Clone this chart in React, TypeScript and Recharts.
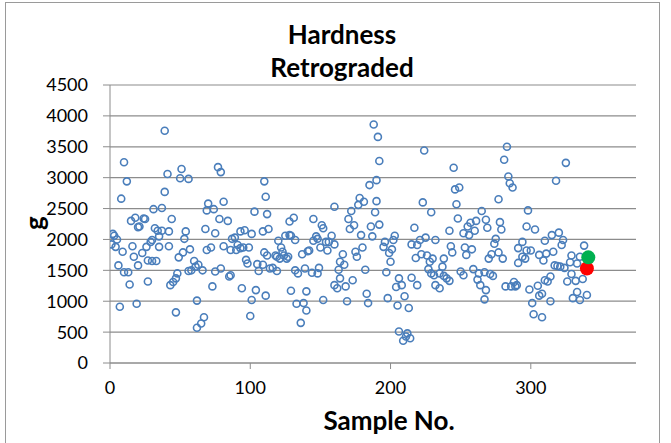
import { ScatterChart, Scatter, XAxis, YAxis, CartesianGrid } from 'recharts';

// sample number / hardness (g)
const sampleNo = [
  10, 12, 8, 31, 15, 18, 21, 24, 25, 20, 32, 34, 2, 3, 5, 1, 4, 9, 16, 26, 29, 30, 17, 23, 27, 30, 6, 20, 10, 13, 14, 27, 7, 19,
  39, 41, 51, 50, 56, 39, 37, 70, 69, 44, 37, 42, 35, 54, 53, 68, 75, 35, 42, 57, 52, 49, 69, 72, 33, 60, 61, 63, 56, 58, 66, 75, 48, 47, 45, 43, 73, 62, 47, 67, 65, 62,
  77, 79, 110, 111, 81, 103, 112, 74, 78, 84, 81, 87, 89, 93, 96, 101, 109, 113, 86, 90, 93, 95, 99, 91, 97, 98, 105, 109, 110, 112, 106, 114, 79, 85, 86, 94, 104, 111, 101, 100,
  131, 128, 145, 151, 152, 125, 128, 129, 132, 120, 122, 147, 148, 145, 150, 142, 141, 118, 119, 123, 124, 126, 127, 121, 137, 116, 119, 132, 134, 139, 144, 148, 149, 129, 140, 133, 138, 140, 136, 152,
  188, 191, 192, 190, 185, 190, 178, 181, 177, 172, 189, 160, 170, 174, 171, 186, 192, 179, 187, 158, 154, 156, 160, 155, 180, 175, 176, 166, 164, 167, 163, 182, 164, 173, 160, 162, 168, 169, 183, 184,
  224, 223, 229, 217, 203, 202, 196, 195, 201, 199, 200, 215, 219, 221, 225, 232, 218, 222, 226, 228, 230, 227, 232, 197, 206, 204, 208, 215, 219, 210, 198, 205, 213, 206, 212, 209, 214, 211,
  245, 246, 249, 247, 248, 265, 268, 261, 257, 255, 260, 252, 256, 242, 243, 244, 253, 254, 258, 270, 238, 237, 229, 231, 235, 238, 240, 242, 235, 250, 252, 259, 263, 262, 267, 264, 271, 267,
  283, 281, 284, 285, 287, 277, 298, 297, 303, 269, 278, 279, 294, 275, 274, 291, 297, 300, 294, 296, 291, 306, 309, 310, 277, 272, 280, 273, 282, 286, 288, 289, 290, 299, 305, 306, 308, 301, 302, 308, 310, 268,
  325, 318, 315, 320, 323, 322, 316, 311, 317, 319, 321, 324, 328, 329, 335, 338, 333, 329, 326, 332, 337, 314, 312, 314, 330, 333, 335, 340,
];

const hardness = [
  3250, 2940, 2660, 2490, 2300, 2350, 2210, 2340, 2330, 2200, 2180, 2140, 2090, 2060, 2000, 1920, 1880, 1800, 1890, 1880, 1960, 1990, 1720, 1780, 1660, 1650, 1580, 1580, 1470, 1470, 1270, 1320, 910, 960,
  3760, 3060, 3140, 2990, 2980, 2770, 2510, 2580, 2470, 2330, 2140, 2130, 2050, 2130, 2010, 2170, 2100, 1880, 1890, 1840, 1790, 1710, 1830, 1870, 1650, 1650, 1560, 1590, 1490, 1500, 1500, 1480, 1450, 1370, 1310, 1260, 1240, 1010, 820, 740, 640, 570,
  3170, 3090, 2940, 2690, 2610, 2450, 2410, 2490, 2330, 2300, 1890, 2010, 2030, 2130, 2150, 2090, 2130, 2170, 1830, 1830, 1860, 1870, 1870, 1910, 1670, 1610, 1600, 1590, 1790, 1740, 1490, 1530, 1530, 1400, 1420, 1210, 1180, 1090, 1020, 760,
  2350, 2290, 2330, 2230, 2180, 2060, 2070, 2060, 1990, 1980, 1870, 2050, 2010, 1980, 1870, 1820, 1810, 1740, 1720, 1800, 1740, 1690, 1720, 1690, 1760, 1540, 1490, 1500, 1450, 1530, 1460, 1450, 1540, 1170, 1160, 960, 970, 850, 650, 1020,
  3860, 3660, 3270, 2960, 2880, 2620, 2670, 2610, 2560, 2460, 2440, 2530, 2330, 2230, 2170, 2210, 2240, 2070, 2050, 2060, 1960, 1960, 1920, 1820, 1870, 1800, 1720, 1760, 1640, 1590, 1510, 1510, 1370, 1340, 1260, 1210, 1240, 1000, 1120, 970,
  3440, 2600, 2440, 2190, 2060, 1990, 1960, 1880, 1840, 1780, 1640, 1920, 1910, 1990, 2030, 1990, 1700, 1760, 1740, 1640, 1690, 1520, 1260, 1470, 1370, 1230, 1260, 1380, 1260, 1080, 1050, 930, 890, 510, 480, 360, 400, 430,
  3160, 2810, 2840, 2570, 2340, 2460, 2320, 2300, 2270, 2210, 2140, 2100, 2070, 2140, 1890, 1790, 1870, 1750, 1840, 1690, 1690, 1560, 1450, 1420, 1450, 1410, 1370, 1330, 1210, 1480, 1420, 1520, 1450, 1350, 1470, 1260, 1440, 1030,
  3500, 3290, 3020, 2910, 2840, 2650, 2470, 2210, 2160, 2190, 2280, 2160, 1960, 2010, 1930, 1860, 1820, 1820, 1720, 1690, 1620, 1750, 1660, 1980, 1790, 1760, 1690, 1410, 1240, 1240, 1310, 1240, 1260, 1190, 1250, 1090, 1120, 970, 790, 740, 1340, 1180,
  3240, 2950, 2070, 2110, 1990, 1910, 1800, 1770, 1580, 1570, 1560, 1540, 1630, 1740, 1720, 1900, 1610, 1440, 1320, 1330, 1360, 1400, 1320, 1000, 1050, 1150, 1020, 1100,
];

const redSample = [340];
const redHardness = [1530];
const greenSample = [341];
const greenHardness = [1710];

const xTicks = [0, 100, 200, 300];
const yTicks = [0, 500, 1000, 1500, 2000, 2500, 3000, 3500, 4000, 4500];

const points = sampleNo.map((x, i) => ({ x, y: hardness[i] }));
const redPoints = redSample.map((x, i) => ({ x, y: redHardness[i] }));
const greenPoints = greenSample.map((x, i) => ({ x, y: greenHardness[i] }));

const grey = '#8c8c8c';
const font = 'Lato, "Open Sans", sans-serif';

const ring = (props: any) => (
  <circle cx={props.cx} cy={props.cy} r={3.5} fill='none' stroke='#4a7ebb' strokeWidth={1.6} />
);
const dot = (color: string) => (props: any) => <circle cx={props.cx} cy={props.cy} r={7} fill={color} />;

export default function App() {
  return (
    <div style={{ position: 'absolute', left: 0, top: 0, width: 671, height: 443, background: '#fff', fontFamily: font, overflow: 'hidden' }}>
      <div style={{ position: 'absolute', left: 5, top: 2, width: 653, height: 470, border: '1px solid #9a9a9a' }} />
      <div style={{ position: 'absolute', left: 142, top: 18, width: 400, textAlign: 'center', fontSize: 26, fontWeight: 700, lineHeight: '33px' }}>
        Hardness
        <br />
        Retrograded
      </div>
      <div style={{ position: 'absolute', left: 239, top: 404, width: 300, textAlign: 'center', fontSize: 26, fontWeight: 700 }}>
        Sample No.
      </div>
      <div style={{ position: 'absolute', left: 19, top: 208, width: 30, height: 30, lineHeight: '30px', textAlign: 'center', fontSize: 26, fontWeight: 700, transform: 'rotate(-90deg)' }}>
        g
      </div>
      <ScatterChart width={671} height={443} margin={{ top: 85, right: 35, bottom: 50, left: 50 }} style={{ position: 'absolute', left: 0, top: 0 }}>
        <CartesianGrid vertical={false} stroke={grey} strokeWidth={1.2} />
        <XAxis
          type='number'
          dataKey='x'
          domain={[0, 375]}
          ticks={xTicks}
          height={30}
          tickSize={6}
          tickMargin={12}
          stroke={grey}
          tickLine={{ stroke: grey }}
          tick={{ fill: '#000', fontSize: 18, fontFamily: font }}
          allowDataOverflow
        />
        <YAxis
          type='number'
          dataKey='y'
          domain={[0, 4500]}
          ticks={yTicks}
          width={60}
          tickSize={7}
          tickMargin={15}
          stroke={grey}
          tickLine={{ stroke: grey }}
          tick={{ fill: '#000', fontSize: 18, fontFamily: font }}
          allowDataOverflow
        />
        <Scatter data={points} shape={ring} isAnimationActive={false} />
        <Scatter data={redPoints} shape={dot('#ff0000')} isAnimationActive={false} />
        <Scatter data={greenPoints} shape={dot('#00b050')} isAnimationActive={false} />
      </ScatterChart>
    </div>
  );
}
